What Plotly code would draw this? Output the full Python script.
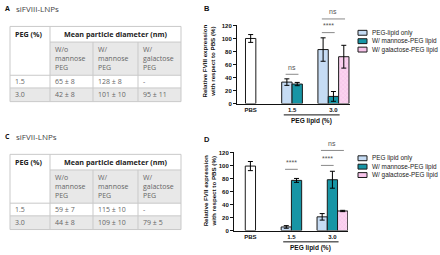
import plotly.graph_objects as go

W, H = 440, 255

# ---------------- data ----------------
groups = ["PBS", "1.5", "3.0"]

# Panel B (siFVIII) relative expression (%)
b_labels = ["PEG-lipid only", "W/ mannose-PEG lipid", "W/ galactose-PEG lipid"]
b_pbs = [100, None, None]
b_pbs_err = [6, None, None]
b_peg = [None, 33, 83]
b_peg_err = [None, 5, 18]
b_man = [None, 30, 11]
b_man_err = [None, 2.5, 7.5]
b_gal = [None, None, 72]
b_gal_err = [None, None, 17.5]

# Panel D (siFVII) relative expression (%)
d_labels = ["PEG lipid only", "W/ mannose-PEG lipid", "W/ galactose-PEG lipid"]
d_pbs = [99, None, None]
d_pbs_err = [7, None, None]
d_peg = [None, 5.5, 21]
d_peg_err = [None, 2, 5]
d_man = [None, 77, 78]
d_man_err = [None, 3, 13]
d_gal = [None, None, 30]
d_gal_err = [None, None, 1]

# Tables (mean particle diameter, nm)
tbl_cols = ["W/o<br>mannose<br>PEG", "W/<br>mannose<br>PEG", "W/<br>galactose<br>PEG"]
tbl_peg = ["1.5", "3.0"]
a_rows = [["65 ± 8", "128 ± 8", "-"], ["42 ± 8", "101 ± 10", "95 ± 11"]]
c_rows = [["59 ± 7", "115 ± 10", "-"], ["44 ± 8", "109 ± 10", "79 ± 5"]]

# significance: (group index, series a, series b, label, bracket level %)
b_sig = [(1, 1, 2, "ns", 45), (2, 1, 2, "****", 109), (2, 1, 3, "ns", 130)]
d_sig = [(1, 1, 2, "****", 94), (2, 1, 2, "****", 100), (2, 1, 3, "ns", 123)]

# ---------------- styling ----------------
FONT = "Liberation Sans, Arial, sans-serif"
TFONT = "Open Sans, Noto Sans, sans-serif"
EDGE = "#1a1a1a"
STY = [
    dict(color="#ffffff"),
    dict(color="#c6dcf4"),
    dict(color="#1795a5"),
    dict(color="#fbd3f0", pattern=dict(shape="x", fgcolor="#eaa2d6", bgcolor="#fbd3f0", size=3, solidity=0.25)),
]
LEG_COL = ["#c6dcf4", "#1795a5", "#f7c4ea"]
BW = 0.25

fig = go.Figure()
shapes = []
annos = []


def px(x):
    return x / W


def py(y):
    return 1 - y / H


def add_panel(xa, ya, xr, series, sig, labels, leg_y, letter, letter_y, ytitle, ytitle_y):
    present = [[i for i, s in enumerate(series) if s[0][k] is not None] for k in range(len(groups))]

    def center(i, k):
        n = len(present[k])
        j = present[k].index(i)
        return k + (j - n / 2 + 0.5) * BW

    for i, (vals, errs) in enumerate(series):
        xs, ys, es, offs = [], [], [], []
        for k in range(len(groups)):
            if vals[k] is None:
                continue
            n = len(present[k])
            j = present[k].index(i)
            xs.append(groups[k])
            ys.append(vals[k])
            es.append(errs[k])
            offs.append((j - n / 2) * BW)
        m = dict(STY[i])
        m["line"] = dict(color=EDGE, width=1)
        fig.add_bar(x=xs, y=ys, offset=offs, width=BW, xaxis=xa, yaxis=ya, marker=m,
                    error_y=dict(type="data", array=es, color="black", thickness=1, width=2.5),
                    showlegend=False, hoverinfo="skip")

    xd = xa + " domain"
    yd = ya + " domain"

    def fx(v):
        return (v - xr[0]) / (xr[1] - xr[0])

    # significance brackets
    for (k, a, b, lab, lvl) in sig:
        x0, x1 = fx(center(a, k) - 0.03), fx(center(b, k) + 0.03)
        shapes.append(dict(type="line", xref=xd, yref=yd, x0=x0, x1=x1, y0=lvl / 120, y1=lvl / 120,
                           line=dict(color="#8a8a8a", width=1)))
        annos.append(dict(xref=xd, yref=yd, x=(x0 + x1) / 2, y=(lvl + 11) / 120, text=lab,
                          showarrow=False, font=dict(family=FONT, size=7, color="#555"),
                          xanchor="center", yanchor="middle"))

    # underline of PEG lipid groups + axis label
    ux0, ux1 = fx(1 - 0.2), fx(2 + 0.15)
    shapes.append(dict(type="line", xref=xd, yref=yd, x0=ux0, x1=ux1, y0=-0.145, y1=-0.145,
                       line=dict(color="#111", width=1)))
    annos.append(dict(xref=xd, yref=yd, x=(ux0 + ux1) / 2, y=-0.225, text="<b>PEG lipid (%)</b>",
                      showarrow=False, font=dict(family=FONT, size=6.5, color="#111"),
                      xanchor="center", yanchor="middle"))

    # y title
    annos.append(dict(xref="paper", yref="paper", x=px(209), y=py(ytitle_y), text=ytitle,
                      textangle=-90, showarrow=False, font=dict(family=FONT, size=6.2, color="#111"),
                      xanchor="center", yanchor="middle"))
    # panel letter
    annos.append(dict(xref="paper", yref="paper", x=px(202), y=py(letter_y), text="<b>%s</b>" % letter,
                      showarrow=False, font=dict(family=FONT, size=7.5, color="#111"),
                      xanchor="left", yanchor="middle"))

    # legend
    for i, lab in enumerate(labels):
        yc = leg_y + i * 8.6
        shapes.append(dict(type="rect", xref="paper", yref="paper", x0=px(358), x1=px(367),
                           y0=py(yc + 2.5), y1=py(yc - 2.5), fillcolor=LEG_COL[i],
                           line=dict(color=EDGE, width=1)))
        annos.append(dict(xref="paper", yref="paper", x=px(369.5), y=py(yc), text=lab, showarrow=False,
                          font=dict(family=FONT, size=6.4, color="#222"), xanchor="left", yanchor="middle"))


def add_table(top, letter, title, rows):
    xs = [10, 50, 93, 138, 181]
    ys = [top, top + 16, top + 50, top + 63, top + 77]
    grey = "#e8e8e8"
    lc = "#c9c9c9"
    shapes.append(dict(type="rect", xref="paper", yref="paper", x0=px(xs[1]), x1=px(xs[4]),
                       y0=py(ys[2]), y1=py(ys[1]), fillcolor=grey, line=dict(width=0), layer="below"))
    shapes.append(dict(type="rect", xref="paper", yref="paper", x0=px(xs[0]), x1=px(xs[4]),
                       y0=py(ys[4]), y1=py(ys[3]), fillcolor=grey, line=dict(width=0), layer="below"))

    def hl(y, x0, x1):
        shapes.append(dict(type="line", xref="paper", yref="paper", x0=px(x0), x1=px(x1), y0=py(y), y1=py(y),
                           line=dict(color=lc, width=1)))

    def vl(x, y0, y1):
        shapes.append(dict(type="line", xref="paper", yref="paper", x0=px(x), x1=px(x), y0=py(y0), y1=py(y1),
                           line=dict(color=lc, width=1)))
    hl(ys[0], xs[0], xs[4])
    hl(ys[1], xs[1], xs[4])
    hl(ys[2], xs[0], xs[4])
    hl(ys[3], xs[0], xs[4])
    hl(ys[4], xs[0], xs[4])
    vl(xs[0], ys[0], ys[4])
    vl(xs[1], ys[0], ys[4])
    vl(xs[2], ys[1], ys[4])
    vl(xs[3], ys[1], ys[4])
    vl(xs[4], ys[0], ys[4])

    def txt(x, y, t, size=7, color="#555", anchor="left"):
        annos.append(dict(xref="paper", yref="paper", x=px(x), y=py(y), text=t, showarrow=False,
                          font=dict(family=TFONT, size=size, color=color), xanchor=anchor, yanchor="middle",
                          align="left"))
    txt(3, top - 18, "<b>%s</b>" % letter, size=7, color="#111")
    txt(14, top - 18, title, size=8, color="#444")
    txt(xs[0] + 3, (ys[0] + ys[1]) / 2, "<b>PEG (%)</b>", size=7.2, color="#222")
    txt((xs[1] + xs[4]) / 2, (ys[0] + ys[1]) / 2, "<b>Mean particle diameter (nm)</b>", size=7.2,
        color="#222", anchor="center")
    for c, h in enumerate(tbl_cols):
        txt(xs[c + 1] + 3, (ys[1] + ys[2]) / 2, h, size=7, color="#666")
    for r, peg in enumerate(tbl_peg):
        yc = (ys[2 + r] + ys[3 + r]) / 2
        txt(xs[0] + 3, yc, peg, size=7, color="#666")
        for c, v in enumerate(rows[r]):
            txt(xs[c + 1] + 3, yc, v, size=7, color="#666")


add_table(24, "A", "siFVIII-LNPs", a_rows)
add_table(155, "C", "siFVII-LNPs", c_rows)

xr_b = [-0.33, 2.40]
xr_d = [-0.40, 2.38]
add_panel("x", "y", xr_b,
          [(b_pbs, b_pbs_err), (b_peg, b_peg_err), (b_man, b_man_err), (b_gal, b_gal_err)],
          b_sig, b_labels, 30.5, "B", 6, "<b>Relative FVIII expression<br>with respect to PBS (%)</b>", 60)
add_panel("x2", "y2", xr_d,
          [(d_pbs, d_pbs_err), (d_peg, d_peg_err), (d_man, d_man_err), (d_gal, d_gal_err)],
          d_sig, d_labels, 159, "D", 140, "<b>Relative FVII expression<br>with respect to PBS (%)</b>", 192)

xcommon = dict(type="category", categoryorder="array", categoryarray=groups, showline=True,
               linecolor="#111", linewidth=1, ticks="", showgrid=False, zeroline=False,
               tickfont=dict(family=FONT, size=6, color="#111", weight="bold"))
ycommon = dict(range=[0, 120], dtick=20, ticks="outside", ticklen=3, tickwidth=1, tickcolor="#111",
               showline=True, linecolor="#111", linewidth=1, showgrid=False, zeroline=False,
               tickfont=dict(family=FONT, size=6, color="#111", weight="bold"))

fig.update_layout(
    width=W, height=H, margin=dict(l=0, r=0, t=0, b=0),
    paper_bgcolor="white", plot_bgcolor="white", showlegend=False, bargap=0,
    xaxis=dict(domain=[px(237), px(350)], range=xr_b, anchor="y", **xcommon),
    yaxis=dict(domain=[py(103), py(23)], anchor="x", **ycommon),
    xaxis2=dict(domain=[px(234), px(348)], range=xr_d, anchor="y2", **xcommon),
    yaxis2=dict(domain=[py(233), py(153)], anchor="x2", **ycommon),
    shapes=shapes, annotations=annos,
)

fig.write_html("out.html", config={"displayModeBar": False, "staticPlot": True},
               post_script="document.body.style.margin='0';document.body.style.overflow='hidden';")
